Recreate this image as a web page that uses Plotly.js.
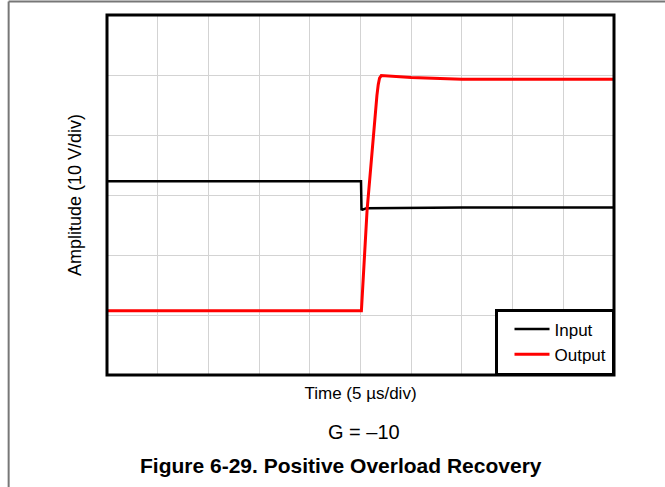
<!DOCTYPE html>
<html>
<head>
<meta charset="utf-8">
<script src="https://cdn.plot.ly/plotly-3.0.1.min.js"></script>
<style>
  html, body { margin: 0; padding: 0; background: #fff; }
  #chart { width: 665px; height: 487px; }
</style>
</head>
<body>
<div id="chart"></div>
<script>
// Time in µs (5 µs/div), amplitude in V (10 V/div)
const inputTime = [0, 25.05, 25.1, 25.2, 25.6, 35, 50];
const inputAmp  = [2.3, 2.3, -2.4, -2.45, -2.2, -2.1, -2.1];

const outputTime = [0, 25.09, 25.65, 26.14, 26.47, 26.62, 26.75, 26.88, 27.05, 28, 30, 35, 50];
const outputAmp  = [-19.3, -19.3, -2.5, 7.5, 14.2, 16.6, 18.4, 19.5, 19.9, 19.8, 19.6, 19.3, 19.3];

const seriesNames = ['Input', 'Output'];
const xTitle = 'Time (5 µs/div)';
const yTitle = 'Amplitude (10 V/div)';
const gainNote = 'G = –10';
const caption = 'Figure 6-29. Positive Overload Recovery';

const font = 'Arial, "Liberation Sans", sans-serif';

const traces = [
  { x: inputTime, y: inputAmp, name: seriesNames[0], mode: 'lines',
    line: { color: '#000000', width: 2.5 } },
  { x: outputTime, y: outputAmp, name: seriesNames[1], mode: 'lines',
    line: { color: '#ff0000', width: 3 } }
];

const layout = {
  width: 665, height: 487,
  margin: { l: 107, r: 51, t: 15, b: 112 },
  paper_bgcolor: '#ffffff', plot_bgcolor: '#ffffff',
  font: { family: font, color: '#000000', size: 17 },
  showlegend: true,
  xaxis: {
    range: [0, 50], dtick: 5, tick0: 0,
    showgrid: true, gridcolor: '#d3d3d3', gridwidth: 1,
    zeroline: false, showticklabels: false, ticks: '', showline: false,
    title: { text: xTitle, font: { size: 17 }, standoff: 12 }
  },
  yaxis: {
    range: [-30, 30], dtick: 10, tick0: -30,
    showgrid: true, gridcolor: '#d3d3d3', gridwidth: 1,
    zeroline: false, showticklabels: false, ticks: '', showline: false,
    title: { text: yTitle, font: { size: 18 }, standoff: 19 }
  },
  legend: {
    x: 1, y: 0, xanchor: 'right', yanchor: 'bottom',
    bgcolor: '#ffffff', bordercolor: '#000000', borderwidth: 2.5,
    font: { size: 17 }, itemwidth: 35, indentation: 12, traceorder: 'normal'
  },
  shapes: [
    { type: 'rect', xref: 'paper', yref: 'paper', x0: 0, x1: 1, y0: 0, y1: 1,
      line: { color: '#000000', width: 3 }, layer: 'above' },
    { type: 'line', xref: 'paper', yref: 'paper', x0: -0.194, x1: 1.2, y0: 1.0375, y1: 1.0375,
      line: { color: '#777777', width: 2 } },
    { type: 'line', xref: 'paper', yref: 'paper', x0: -0.194, x1: -0.194, y0: 1.0375, y1: -0.32,
      line: { color: '#777777', width: 2 } }
  ],
  annotations: [
    { text: gainNote, xref: 'paper', yref: 'paper', x: 0.506, y: -0.157,
      xanchor: 'center', yanchor: 'middle', showarrow: false, font: { size: 20 } },
    { text: '<b>' + caption + '</b>', xref: 'paper', yref: 'paper', x: 0.461, y: -0.25,
      xanchor: 'center', yanchor: 'middle', showarrow: false, font: { size: 21 } }
  ]
};

Plotly.newPlot('chart', traces, layout, { displayModeBar: false, staticPlot: true });
</script>
</body>
</html>
